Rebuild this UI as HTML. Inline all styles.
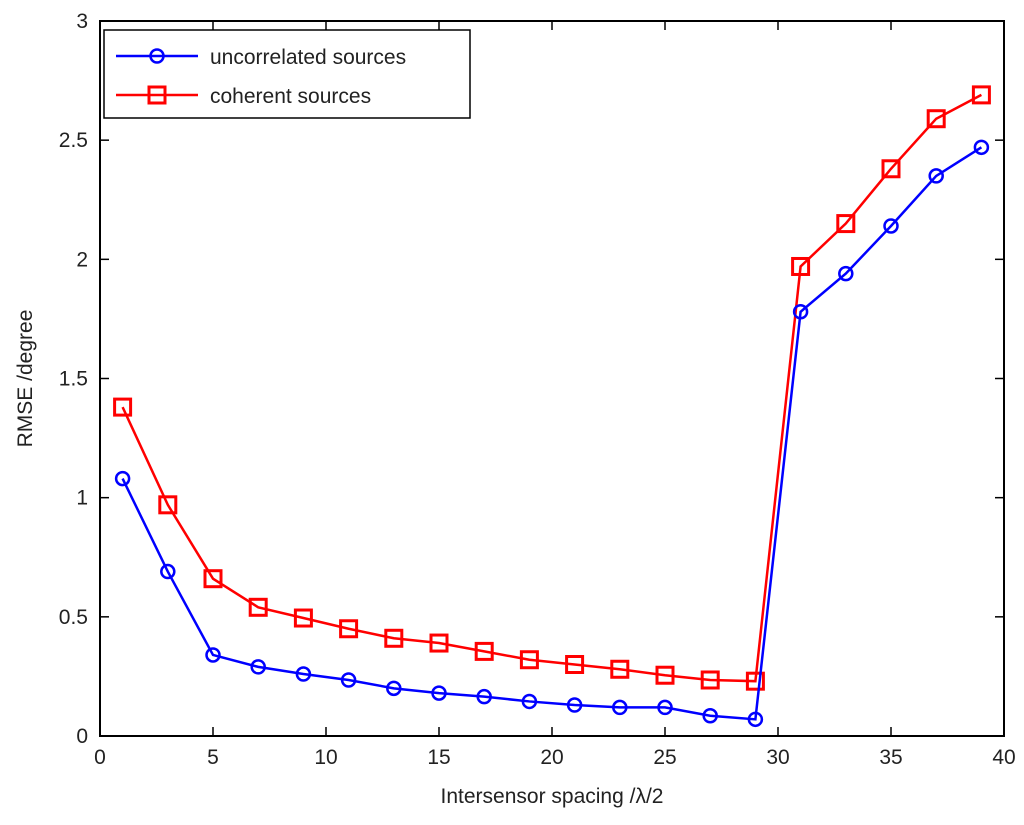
<!DOCTYPE html>
<html><head><meta charset="utf-8"><style>
body{margin:0;background:#fff;}
svg text{font-family:"Liberation Sans",sans-serif;font-size:21px;fill:#222;}
</style></head><body>
<svg id="c" width="1024" height="820" xmlns="http://www.w3.org/2000/svg"></svg>
<script>
const xValues=[1,3,5,7,9,11,13,15,17,19,21,23,25,27,29,31,33,35,37,39];
const uncorrelated=[1.08,0.69,0.34,0.29,0.26,0.235,0.2,0.18,0.165,0.145,0.13,0.12,0.12,0.085,0.07,1.78,1.94,2.14,2.35,2.47];
const coherent=[1.38,0.97,0.66,0.54,0.495,0.45,0.41,0.39,0.355,0.32,0.3,0.28,0.255,0.235,0.23,1.97,2.15,2.38,2.59,2.69];
const xTicks=[0,5,10,15,20,25,30,35,40];
const yTicks=[0,0.5,1,1.5,2,2.5,3];
const yTickLabels=["0","0.5","1","1.5","2","2.5","3"];
const L=100,R=1004,T=21,B=736;
const X=v=>L+(v-0)/40*(R-L), Y=v=>B-v/3*(B-T);
const s=document.getElementById('c'),NS="http://www.w3.org/2000/svg";
function el(t,a,p){const e=document.createElementNS(NS,t);for(const k in a)e.setAttribute(k,a[k]);(p||s).appendChild(e);return e;}
const frame=el('rect',{x:L,y:T,width:R-L,height:B-T,fill:'#fff',stroke:'#000','stroke-width':2});


xTicks.forEach(v=>{
 el('line',{x1:X(v),x2:X(v),y1:B,y2:B-9,stroke:'#000','stroke-width':1.5});
 el('line',{x1:X(v),x2:X(v),y1:T,y2:T+9,stroke:'#000','stroke-width':1.5});
 const t=el('text',{x:X(v),y:B+28,'text-anchor':'middle'});t.textContent=v;
 
 
});
yTicks.forEach((v,i)=>{
 el('line',{x1:L,x2:L+9,y1:Y(v),y2:Y(v),stroke:'#000','stroke-width':1.5});
 el('line',{x1:R,x2:R-9,y1:Y(v),y2:Y(v),stroke:'#000','stroke-width':1.5});
 const t=el('text',{x:L-12,y:Y(v)+7,'text-anchor':'end'});t.textContent=yTickLabels[i];
 
 
});
const xt=el('text',{x:(L+R)/2,y:803,'text-anchor':'middle'});xt.textContent='Intersensor spacing /λ/2';


const yt=el('text',{x:0,y:0,'text-anchor':'middle',transform:`translate(32,${(T+B)/2}) rotate(-90)`});yt.textContent='RMSE /degree';


function series(vals,color,shape,name){
 const g=el('g',{});
 
 
 el('polyline',{points:vals.map((v,i)=>X(xValues[i])+','+Y(v)).join(' '),fill:'none',stroke:color,'stroke-width':2.5},g);
 vals.forEach((v,i)=>{
  let m;
  if(shape==='o')m=el('circle',{cx:X(xValues[i]),cy:Y(v),r:6.5,fill:'none',stroke:color,'stroke-width':2.5},g);
  else m=el('rect',{x:X(xValues[i])-8,y:Y(v)-8,width:16,height:16,fill:'none',stroke:color,'stroke-width':3},g);
  
  
 });
}
series(coherent,'#f00','s','coherent-series');
series(uncorrelated,'#00f','o','uncorrelated-series');
const lg=el('g',{});


el('rect',{x:104,y:30,width:366,height:88,fill:'#fff',stroke:'#000','stroke-width':1.5},lg);
el('line',{x1:116,x2:198,y1:56,y2:56,stroke:'#00f','stroke-width':2.5},lg);
el('circle',{cx:157,cy:56,r:6.5,fill:'none',stroke:'#00f','stroke-width':2.5},lg);
let t1=el('text',{x:210,y:64,'font-size':'23'},lg);t1.textContent='uncorrelated sources';


el('line',{x1:116,x2:198,y1:95,y2:95,stroke:'#f00','stroke-width':2.5},lg);
el('rect',{x:149,y:87,width:16,height:16,fill:'none',stroke:'#f00','stroke-width':3},lg);
let t2=el('text',{x:210,y:103,'font-size':'23'},lg);t2.textContent='coherent sources';


</script>
</body></html>
